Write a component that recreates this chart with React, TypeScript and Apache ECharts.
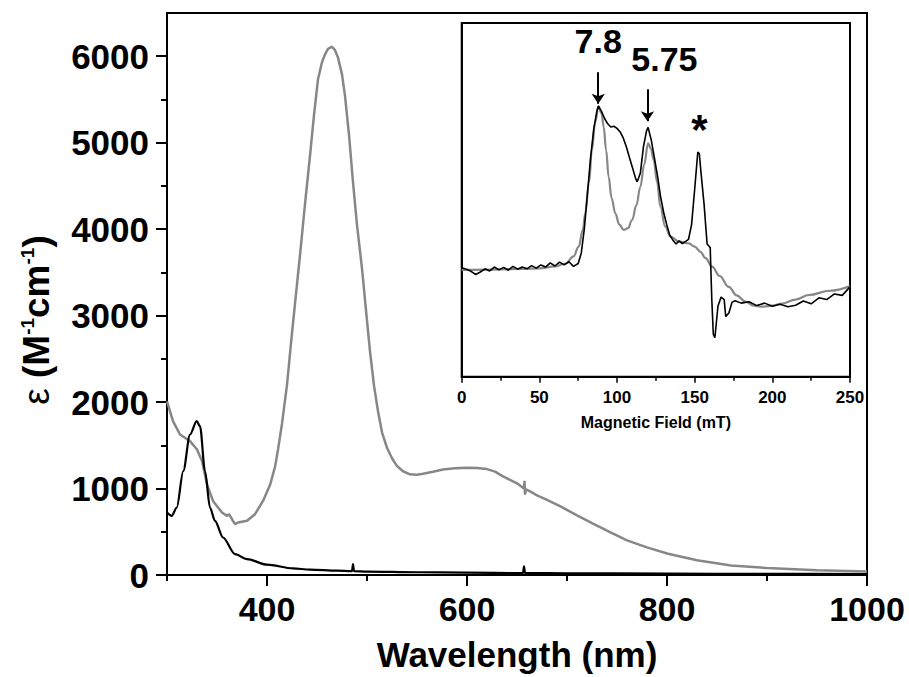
import React, { useEffect, useRef } from "react";
import * as echarts from "echarts";

// ---------- main UV-vis data (nm, M^-1 cm^-1) ----------
const grayNm = [300, 306, 313, 323, 330, 335, 340, 346, 355, 360, 362, 365, 368, 371, 380, 388, 396, 403, 408, 411, 415, 420, 425, 433, 438, 443, 447, 451, 455, 458, 461, 465, 468, 471, 475, 478, 482, 486, 490, 495, 499, 503, 507, 511, 515, 520, 525, 530, 536, 543, 550, 556, 566, 576, 588, 600, 610, 620, 628, 636, 643, 650, 657, 657.5, 658, 659, 665, 670, 680, 694, 710, 725, 743, 760, 780, 801, 830, 864, 900, 950, 1000];
const grayEps = [2009, 1779, 1625, 1548, 1452, 1318, 1048, 857, 722, 684, 703, 645, 588, 607, 627, 703, 857, 1040, 1250, 1450, 1750, 2200, 2800, 3700, 4290, 4850, 5320, 5734, 5930, 6022, 6085, 6110, 6070, 5984, 5790, 5542, 5090, 4544, 4050, 3545, 3060, 2585, 2190, 1894, 1650, 1471, 1350, 1260, 1200, 1164, 1160, 1172, 1195, 1221, 1235, 1241, 1238, 1225, 1195, 1140, 1100, 1060, 1000, 1090, 930, 990, 955, 920, 870, 790, 690, 600, 495, 400, 320, 245, 170, 110, 80, 55, 40];

const blackNm = [300, 304.7, 309.7, 316.3, 323, 329.7, 333, 338, 343, 348, 356, 368, 380, 400, 426, 443, 470, 485, 486, 487, 500, 550, 600, 656, 657, 658, 700, 800, 900, 1000];
const blackEps = [722, 684, 780, 1203, 1625, 1779, 1721, 1203, 780, 627, 434, 242, 184, 120, 77, 62, 50, 45, 125, 45, 40, 32, 27, 22, 100, 22, 20, 16, 13, 10];

const xLabelValues = [400, 600, 800, 1000];
const xMinorValues = [300, 500, 700, 900];
const yLabelValues = [0, 1000, 2000, 3000, 4000, 5000, 6000];
const yMinorValues = [500, 1500, 2500, 3500, 4500, 5500];

// ---------- inset EPR data (mT, arbitrary units) ----------
const eprField = [0, 3, 6, 9, 12, 15, 18, 21, 24, 27, 30, 33, 36, 39, 42, 45, 48, 51, 54, 57, 60, 63, 66, 69, 72, 75, 77, 79, 81, 83, 85, 87, 88, 90, 92, 94, 96, 98, 100, 102, 104, 106, 108, 110, 112, 113, 115, 117, 119, 120, 122, 124, 126, 128, 130, 132, 134, 136, 138, 140, 142, 144, 146, 148, 150, 152, 153, 154, 156, 158, 159, 160, 161, 162, 163, 165, 167, 169, 170, 172, 174, 176, 180, 185, 190, 195, 200, 205, 210, 215, 220, 225, 230, 235, 240, 245, 250];
const eprSignal = [30.8, 30.4, 29.8, 28.9, 29.6, 30.5, 29.9, 31.0, 30.2, 30.9, 30.1, 31.2, 30.4, 31.0, 30.5, 31.4, 30.7, 31.6, 31.0, 32.2, 31.3, 32.4, 31.6, 32.5, 31.2, 32.0, 35, 42, 52, 62, 70, 75, 76.5, 75, 73, 71.5, 70.6, 70.8, 70.2, 69.2, 67.5, 65, 62, 59, 56, 55.1, 57.5, 65, 69.5, 70.5, 67, 62, 57, 51, 46.5, 43, 40, 38.6, 37.5, 38.4, 37.6, 38.2, 38.8, 43, 53, 63.5, 63, 58, 49, 37.5, 37, 36.5, 22, 12, 11, 20, 22.5, 21.8, 17, 18, 21, 21.5, 20.8, 21.2, 20.1, 20.8, 19.9, 20.5, 19.8, 20.2, 21.4, 20.6, 22.3, 21.8, 23.4, 23.0, 25.4];

const fitField = [0, 20, 40, 50, 60, 67, 72, 75.3, 78, 79.5, 82, 83.8, 86, 88, 90, 91.4, 93, 94.6, 96.5, 98.9, 101.5, 104.3, 107, 109.7, 112.5, 115, 117.5, 120, 121.8, 123.6, 125.8, 127.9, 131, 134.4, 140, 146.2, 150, 153.7, 157, 161.2, 166, 172, 177, 182.7, 188, 193.5, 200, 206.4, 215, 223.6, 237, 250];
const fitSignal = [30.2, 30.3, 30.5, 30.6, 31.2, 32, 34, 36.8, 41.5, 46.2, 55, 64.1, 72, 76.5, 74.5, 70.7, 64, 56.5, 50.5, 46.2, 43, 41.5, 42, 44.3, 48.5, 53.7, 60, 66, 64.5, 61.3, 55, 48.1, 42.5, 39.6, 38.2, 37.7, 36.8, 35.3, 33.5, 31.1, 28.5, 25.4, 23, 21.2, 20.1, 19.8, 20.1, 20.7, 21.8, 23.1, 24.3, 25.6];

const annotNames = ["7.8", "5.75", "*"];
const annotField = [87.9, 130.5, 153.1];
const annotSignal = [94.9, 89.8, 70.0];
const annotSizes = [34, 34, 42];
const arrowField = [87.9, 119.6];
const arrowFrom = [86.1, 81.3];
const arrowTo = [77.2, 72.2];

const FONT = "'Liberation Sans', Arial, Helvetica, sans-serif";

const zip = (a: number[], b: number[]) => a.map((v, i) => [v, b[i]]);

export default function App() {
  const ref = useRef<HTMLDivElement>(null);
  useEffect(() => {
    document.body.style.margin = "0";
    if (!ref.current) return;
    const chart = echarts.init(ref.current, undefined, { renderer: "svg" });
    const axisLine = { show: true, lineStyle: { color: "#000", width: 2 } };
    const plain = (v: number) => String(v);
    const option: any = {
      animation: false,
      backgroundColor: "#fff",
      grid: [
        { left: 167, top: 13, width: 700, height: 564.7, show: true, borderColor: "#000", borderWidth: 2, backgroundColor: "transparent" },
        { left: 461.7, top: 23, width: 388.3, height: 353.7, show: true, borderColor: "#000", borderWidth: 2, backgroundColor: "#fff" },
      ],
      xAxis: [
        {
          type: "value", gridIndex: 0, position: "bottom", min: 300, max: 1000, interval: 100,
          axisLine, splitLine: { show: false },
          axisTick: { show: true, inside: false, length: 11, customValues: xLabelValues, lineStyle: { color: "#000", width: 2 } },
          axisLabel: { show: true, customValues: xLabelValues, formatter: plain, margin: 17, fontFamily: FONT, fontWeight: "bold", fontSize: 34, color: "#000" },
          name: "Wavelength (nm)", nameLocation: "middle", nameGap: 62,
          nameTextStyle: { fontFamily: FONT, fontWeight: "bold", fontSize: 35, color: "#000" },
        },
        {
          type: "value", gridIndex: 0, position: "bottom", offset: 0, min: 300, max: 1000, interval: 100,
          axisLine: { show: false }, splitLine: { show: false }, axisLabel: { show: false },
          axisTick: { show: true, inside: false, length: 6, customValues: xMinorValues, lineStyle: { color: "#000", width: 2 } },
        },
        {
          type: "value", gridIndex: 1, position: "bottom", min: 0, max: 250, interval: 50,
          axisLine: { show: true, lineStyle: { color: "#000", width: 2 } }, splitLine: { show: false },
          axisTick: { show: true, inside: false, length: 6, lineStyle: { color: "#000", width: 1.5 } },
          minorTick: { show: true, splitNumber: 2, length: 4, lineStyle: { color: "#000", width: 1.5 } },
          minorSplitLine: { show: false },
          axisLabel: { margin: 12, formatter: plain, fontFamily: FONT, fontWeight: "bold", fontSize: 17, color: "#000" },
          name: "Magnetic Field (mT)", nameLocation: "middle", nameGap: 38,
          nameTextStyle: { fontFamily: FONT, fontWeight: "bold", fontSize: 16, color: "#000" },
        },
      ],
      yAxis: [
        {
          type: "value", gridIndex: 0, position: "left", min: 0, max: 6500, interval: 1000,
          axisLine, splitLine: { show: false },
          axisTick: { show: true, inside: false, length: 11, customValues: yLabelValues, lineStyle: { color: "#000", width: 2 } },
          axisLabel: { show: true, customValues: yLabelValues, formatter: plain, margin: 18, fontFamily: FONT, fontWeight: "bold", fontSize: 35, color: "#000" },
        },
        {
          type: "value", gridIndex: 0, position: "left", offset: 0, min: 0, max: 6500, interval: 1000,
          axisLine: { show: false }, splitLine: { show: false }, axisLabel: { show: false },
          axisTick: { show: true, inside: false, length: 6, customValues: yMinorValues, lineStyle: { color: "#000", width: 2 } },
        },
        {
          type: "value", gridIndex: 1, position: "left", min: 0, max: 100,
          axisLine: { show: true, lineStyle: { color: "#000", width: 2 } },
          axisTick: { show: false }, axisLabel: { show: false }, splitLine: { show: false },
        },
      ],
      graphic: [
        {
          type: "text", x: 36, y: 320, rotation: Math.PI / 2, z: 10,
          style: {
            text: "{e|ε }{b|(M}{s|-1}{b|cm}{s|-1}{b|)}",
            align: "center", verticalAlign: "middle",
            rich: {
              e: { fontFamily: FONT, fontSize: 37, fontWeight: "normal", fill: "#000", lineHeight: 37, verticalAlign: "bottom" },
              b: { fontFamily: FONT, fontSize: 37, fontWeight: "bold", fill: "#000", lineHeight: 37, verticalAlign: "bottom" },
              s: { fontFamily: FONT, fontSize: 19, fontWeight: "bold", fill: "#000", lineHeight: 19, padding: [0, 0, 29, 0], verticalAlign: "top" },
            },
          },
        },
      ],
      series: [
        {
          type: "line", xAxisIndex: 0, yAxisIndex: 0, data: zip(grayNm, grayEps),
          showSymbol: false, smooth: false,
          lineStyle: { color: "#868886", width: 2.5 }, z: 2,
        },
        {
          type: "line", xAxisIndex: 0, yAxisIndex: 0, data: zip(blackNm, blackEps),
          showSymbol: false, smooth: 0.3, smoothMonotone: "x",
          lineStyle: { color: "#000", width: 2.2 }, z: 3,
        },
        {
          type: "line", xAxisIndex: 2, yAxisIndex: 2, data: zip(eprField, eprSignal),
          showSymbol: false, smooth: false,
          lineStyle: { color: "#000", width: 1.6 }, z: 5,
          markLine: {
            silent: true, symbol: ["none", "arrow"], symbolSize: 10,
            lineStyle: { color: "#000", width: 2, type: "solid" },
            label: { show: false },
            data: arrowField.map((f, i) => [{ coord: [f, arrowFrom[i]] }, { coord: [f, arrowTo[i]] }]),
          },
          markPoint: {
            silent: true, symbol: "circle", symbolSize: 1,
            itemStyle: { color: "rgba(0,0,0,0)" },
            label: {
              show: true, position: "inside", formatter: (p: any) => p.name,
              fontFamily: FONT, fontWeight: "bold", fontSize: 34, color: "#000",
            },
            data: annotNames.map((n, i) => ({ name: n, coord: [annotField[i], annotSignal[i]], label: { fontSize: annotSizes[i] } })),
          },
        },
        {
          type: "line", xAxisIndex: 2, yAxisIndex: 2, data: zip(fitField, fitSignal),
          showSymbol: false, smooth: 0.4, smoothMonotone: "x",
          lineStyle: { color: "#868886", width: 2.2 }, z: 4,
        },
      ],
    };
    chart.setOption(option);
    return () => chart.dispose();
  }, []);
  return <div ref={ref} style={{ width: 909, height: 677 }} />;
}
